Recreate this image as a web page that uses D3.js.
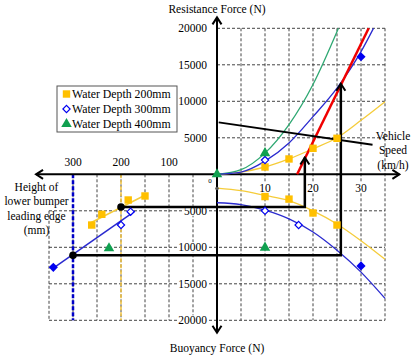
<!DOCTYPE html>
<html><head><meta charset="utf-8">
<script src="https://cdn.jsdelivr.net/npm/d3@7"></script>
<style>
html,body{margin:0;padding:0;background:#fff;}
svg{display:block;font-family:"Liberation Serif","Times New Roman",serif;}
</style></head>
<body><svg id="c" width="414" height="357"></svg>
<script>
// ---------- data ----------
const speedTicks = [10, 20, 30];
const heightTicks = [300, 200, 100];
const forceTicksTop = [20000, 15000, 10000, 5000];
const forceTicksBottom = [-5000, -10000, -15000, -20000];
const speedGrid = [5, 10, 15, 20, 25, 30, 35];
const heightGrid = [50, 100, 150, 200, 250, 300, 350];

const seriesNames = ["Water Depth 200mm", "Water Depth 300mm", "Water Depth 400mm"];

// top-right: resistance vs speed
const yellowTopCurveSpeed = [0, 5, 10, 15, 20, 25, 30, 35];
const yellowTopCurveForce = [0, 300, 1000, 2100, 3500, 5000, 7400, 9950];
const yellowTopPtSpeed = [10, 15, 20, 25];
const yellowTopPtForce = [1000, 2100, 3560, 4930];
const blueTopCurveSpeed = [0, 5, 10, 15, 20, 25, 30, 32.6];
const blueTopCurveForce = [0, 300, 1800, 4300, 7900, 11800, 16800, 20000];
const blueTopOpenSpeed = [10];
const blueTopOpenForce = [1950];
const blueTopFilledSpeed = [30];
const blueTopFilledForce = [16100];
const greenTopCurveSpeed = [0, 5, 10, 15, 20, 25.3];
const greenTopCurveForce = [0, 630, 2900, 6800, 12300, 20000];
const greenTopPtSpeed = [0, 10];
const greenTopPtForce = [0, 2900];
const redLineSpeed = [16.7, 31.6];
const redLineForce = [0, 20000];
const blackLineSpeed = [0.35, 32.4];
const blackLineForce = [7100, 4050];

// bottom-right: buoyancy vs speed
const yellowBotCurveSpeed = [0, 5, 10, 15, 20, 25, 30, 35];
const yellowBotCurveForce = [-1900, -2250, -2900, -3600, -5000, -6800, -9100, -11650];
const yellowBotPtSpeed = [10, 15, 20, 25];
const yellowBotPtForce = [-3050, -3400, -5300, -6950];
const blueBotCurveSpeed = [0, 5, 10, 15, 20, 25, 30, 35];
const blueBotCurveForce = [-3900, -4150, -4900, -6100, -7900, -10400, -13400, -17000];
const blueBotOpenSpeed = [10, 17];
const blueBotOpenForce = [-5000, -6950];
const blueBotFilledSpeed = [30];
const blueBotFilledForce = [-12550];
const greenBotPtSpeed = [10];
const greenBotPtForce = [-10050];
const zeroDotSpeed = [0];
const zeroDotForce = [-1950];

// bottom-left: buoyancy vs bumper height
const yellowLeftLineHeight = [265, 145];
const yellowLeftLineForce = [-6700, -2700];
const yellowLeftPtHeight = [261, 240, 185, 150];
const yellowLeftPtForce = [-6950, -5480, -3520, -2970];
const blueLeftLineHeight = [341, 171];
const blueLeftLineForce = [-12850, -5030];
const blueLeftOpenHeight = [200, 180];
const blueLeftOpenForce = [-6950, -5120];
const blueLeftFilledHeight = [341];
const blueLeftFilledForce = [-12740];
const greenLeftPtHeight = [225];
const greenLeftPtForce = [-10140];

// reading paths (height -> buoyancy -> speed -> resistance)
const pathHeight = [200, 300];
const pathBuoyancy = [-4470, -11100];
const pathSpeed = [18.3, 25.8];
const pathResistance = [2300, 12400];

// ---------- scales ----------
const svg = d3.select("#c");
const xR = d3.scaleLinear().domain([0, 35]).range([217, 385]);
const xL = d3.scaleLinear().domain([0, 350]).range([217, 49]);
const y = d3.scaleLinear().domain([-20000, 20000]).range([320.3, 28.3]);

const YEL = "#FFC000", YEL_L = "#F5CC3A", BLU = "#0000F0", BLU_L = "#2A2ACF", GRN = "#10A050", GRN_L = "#2EA872";

const zip = (a, b) => a.map((v, i) => [v, b[i]]);
const lineR = d3.line().x(d => xR(d[0])).y(d => y(d[1])).curve(d3.curveMonotoneX);
const lineL = d3.line().x(d => xL(d[0])).y(d => y(d[1]));

// ---------- grid ----------
const grid = svg.append("g").attr("stroke", "#444").attr("stroke-width", 1).attr("stroke-dasharray", "3,2").attr("fill", "none");
speedGrid.forEach(s => {
  grid.append("line").attr("x1", xR(s)).attr("x2", xR(s)).attr("y1", y(20000)).attr("y2", y(-20000));
});
heightGrid.forEach(h => {
  grid.append("line").attr("x1", xL(h)).attr("x2", xL(h)).attr("y1", h === 350 ? y(-5000) : y(0)).attr("y2", y(-20000));
});
forceTicksTop.forEach(f => {
  grid.append("line").attr("x1", xR(0)).attr("x2", xR(35)).attr("y1", y(f)).attr("y2", y(f));
});
forceTicksBottom.forEach(f => {
  grid.append("line").attr("x1", xL(350)).attr("x2", xR(35)).attr("y1", y(f)).attr("y2", y(f));
});

// reference dashed verticals on the height side
svg.append("line").attr("x1", xL(300)).attr("x2", xL(300)).attr("y1", y(0)).attr("y2", y(-20000))
  .attr("stroke", "#0000C8").attr("stroke-width", 2.5).attr("stroke-dasharray", "4,2");
svg.append("line").attr("x1", xL(200)).attr("x2", xL(200)).attr("y1", y(0)).attr("y2", y(-20000))
  .attr("stroke", "#F2C23C").attr("stroke-width", 1.5).attr("stroke-dasharray", "4,2");

// ---------- tick labels ----------
const fs = 11.5;
forceTicksTop.forEach(f => {
  svg.append("text").attr("x", 207).attr("y", y(f) + 4).attr("text-anchor", "end").attr("font-size", fs).text(f);
});
function labelBg(x, yy, txt, anchor, size) {
  const t = svg.append("text").attr("x", x).attr("y", yy).attr("text-anchor", anchor).attr("font-size", size).text(txt);
  const b = t.node().getBBox();
  svg.insert("rect", () => t.node()).attr("x", b.x - 0.5).attr("y", b.y + 1).attr("width", b.width + 1).attr("height", b.height - 2).attr("fill", "#fff");
}
forceTicksBottom.forEach(f => labelBg(207, y(f) + 4, Math.abs(f), "end", fs));
speedTicks.forEach(s => labelBg(xR(s), 192, s, "middle", fs));
heightTicks.forEach(h => {
  svg.append("text").attr("x", xL(h)).attr("y", 166).attr("text-anchor", "middle").attr("font-size", fs).text(h);
});
svg.append("text").attr("x", 210).attr("y", 183).attr("text-anchor", "middle").attr("font-size", 7).text("0");

// ---------- axes with arrows ----------
const defs = svg.append("defs");
defs.append("marker").attr("id", "arr").attr("viewBox", "-10 -6 12 12").attr("refX", 0).attr("refY", 0)
  .attr("markerWidth", 12).attr("markerHeight", 12).attr("markerUnits", "userSpaceOnUse").attr("orient", "auto")
  .append("path").attr("d", "M-7,-4.5 L0,0 L-7,4.5").attr("fill", "none").attr("stroke", "#000").attr("stroke-width", 2);
const ax = svg.append("g").attr("stroke", "#000").attr("stroke-width", 2);
ax.append("line").attr("x1", xL(0)).attr("x2", xL(377)).attr("y1", y(0)).attr("y2", y(0)).attr("marker-end", "url(#arr)");
ax.append("line").attr("x1", xR(0)).attr("x2", xR(38)).attr("y1", y(0)).attr("y2", y(0)).attr("marker-end", "url(#arr)");
ax.append("line").attr("x1", xR(0)).attr("x2", xR(0)).attr("y1", y(0)).attr("y2", y(21500)).attr("marker-end", "url(#arr)");
ax.append("line").attr("x1", xR(0)).attr("x2", xR(0)).attr("y1", y(0)).attr("y2", y(-21700)).attr("marker-end", "url(#arr)");

// ---------- curves ----------
function curve(sp, fo, col, w) {
  svg.append("path").datum(zip(sp, fo)).attr("d", lineR).attr("fill", "none").attr("stroke", col).attr("stroke-width", w);
}
curve(yellowTopCurveSpeed, yellowTopCurveForce, YEL_L, 1.3);
curve(greenTopCurveSpeed, greenTopCurveForce, GRN_L, 1.3);
curve(blueTopCurveSpeed, blueTopCurveForce, BLU_L, 1.3);
curve(yellowBotCurveSpeed, yellowBotCurveForce, YEL_L, 1.3);
curve(blueBotCurveSpeed, blueBotCurveForce, BLU_L, 1.3);
svg.append("path").datum(zip(yellowLeftLineHeight, yellowLeftLineForce)).attr("d", lineL).attr("fill", "none").attr("stroke", YEL_L).attr("stroke-width", 1.5);
svg.append("path").datum(zip(blueLeftLineHeight, blueLeftLineForce)).attr("d", lineL).attr("fill", "none").attr("stroke", BLU_L).attr("stroke-width", 1.5);

// red and black straight lines
svg.append("path").datum(zip(redLineSpeed, redLineForce)).attr("d", lineR.curve(d3.curveLinear)).attr("fill", "none").attr("stroke", "#F00000").attr("stroke-width", 2.5);
svg.append("path").datum(zip(blackLineSpeed, blackLineForce)).attr("d", lineR).attr("fill", "none").attr("stroke", "#000").attr("stroke-width", 1.8);

// reading paths
pathHeight.forEach((h, i) => {
  const p = d3.path();
  p.moveTo(xL(h), y(pathBuoyancy[i]));
  p.lineTo(xR(pathSpeed[i]), y(pathBuoyancy[i]));
  p.lineTo(xR(pathSpeed[i]), y(pathResistance[i]));
  svg.append("path").attr("d", p.toString()).attr("fill", "none").attr("stroke", "#000").attr("stroke-width", 2.5).attr("marker-end", "url(#arr)");
  svg.append("circle").attr("cx", xL(h)).attr("cy", y(pathBuoyancy[i])).attr("r", 3.8).attr("fill", "#000");
});

// ---------- markers ----------
const rhombus = { draw(ctx, size) { const r = Math.sqrt(size / 2); ctx.moveTo(0, -r); ctx.lineTo(r, 0); ctx.lineTo(0, r); ctx.lineTo(-r, 0); ctx.closePath(); } };
const sq = d3.symbol().type(d3.symbolSquare).size(55);
const dia = d3.symbol().type(rhombus).size(26);
const diaF = d3.symbol().type(rhombus).size(42);
const tri = d3.symbol().type(d3.symbolTriangle).size(48);
function marks(xs, fo, xsc, sym, fill, stroke, sw) {
  xs.forEach((v, i) => {
    svg.append("path").attr("d", sym()).attr("transform", `translate(${xsc(v)},${y(fo[i])})`)
      .attr("fill", fill).attr("stroke", stroke).attr("stroke-width", sw || 0);
  });
}
marks(yellowTopPtSpeed, yellowTopPtForce, xR, sq, YEL, "none");
marks(yellowBotPtSpeed, yellowBotPtForce, xR, sq, YEL, "none");
marks(yellowLeftPtHeight, yellowLeftPtForce, xL, sq, YEL, "none");
marks(blueTopOpenSpeed, blueTopOpenForce, xR, dia, "#fff", BLU, 1.2);
marks(blueBotOpenSpeed, blueBotOpenForce, xR, dia, "#fff", BLU, 1.2);
marks(blueLeftOpenHeight, blueLeftOpenForce, xL, dia, "#fff", BLU, 1.2);
marks(blueTopFilledSpeed, blueTopFilledForce, xR, diaF, BLU, "none");
marks(blueBotFilledSpeed, blueBotFilledForce, xR, diaF, BLU, "none");
marks(blueLeftFilledHeight, blueLeftFilledForce, xL, diaF, BLU, "none");
marks(greenTopPtSpeed, greenTopPtForce, xR, tri, GRN, "none");
marks(greenBotPtSpeed, greenBotPtForce, xR, tri, GRN, "none");
marks(greenLeftPtHeight, greenLeftPtForce, xL, tri, GRN, "none");
zeroDotSpeed.forEach((s, i) => svg.append("circle").attr("cx", xR(s)).attr("cy", y(zeroDotForce[i])).attr("r", 1.8).attr("fill", "#555"));

// ---------- titles ----------
svg.append("text").attr("x", 217).attr("y", 12.5).attr("text-anchor", "middle").attr("font-size", fs).text("Resistance Force (N)");
svg.append("text").attr("x", 217).attr("y", 351.5).attr("text-anchor", "middle").attr("font-size", fs).text("Buoyancy Force (N)");
["Vehicle", "Speed", "(km/h)"].forEach((t, i) => {
  svg.append("text").attr("x", 393).attr("y", 140 + i * 14.3).attr("text-anchor", "middle").attr("font-size", fs).text(t);
});
["Height of", "lower bumper", "leading edge", "(mm)"].forEach((t, i) => {
  svg.append("text").attr("x", 36.5).attr("y", 191 + i * 14.4).attr("text-anchor", "middle").attr("font-size", fs).text(t);
});

// ---------- legend ----------
const lg = svg.append("g");
lg.append("rect").attr("x", 57).attr("y", 86).attr("width", 120).attr("height", 46).attr("fill", "#fff").attr("stroke", "#555").attr("stroke-width", 1);
const legSyms = [[sq, YEL, "none", 0], [dia, "#fff", BLU, 1.2], [tri, GRN, "none", 0]];
seriesNames.forEach((n, i) => {
  const yy = 94 + i * 15;
  const s = legSyms[i];
  lg.append("path").attr("d", s[0]()).attr("transform", `translate(66.5,${yy})`).attr("fill", s[1]).attr("stroke", s[2]).attr("stroke-width", s[3]);
  lg.append("text").attr("x", 72).attr("y", yy + 4).attr("font-size", 11.8).text(n);
});
</script></body></html>
